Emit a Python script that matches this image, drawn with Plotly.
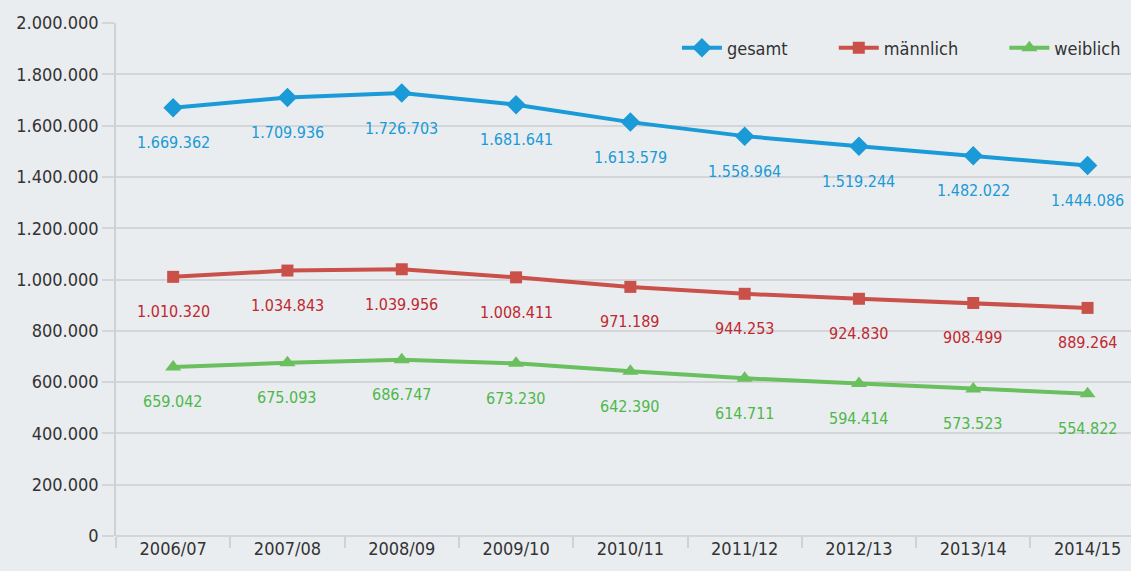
import plotly.graph_objects as go

years = ["2006/07", "2007/08", "2008/09", "2009/10", "2010/11", "2011/12", "2012/13", "2013/14", "2014/15"]
gesamt = [1669362, 1709936, 1726703, 1681641, 1613579, 1558964, 1519244, 1482022, 1444086]
maennlich = [1010320, 1034843, 1039956, 1008411, 971189, 944253, 924830, 908499, 889264]
weiblich = [659042, 675093, 686747, 673230, 642390, 614711, 594414, 573523, 554822]
y_ticks = [0, 200000, 400000, 600000, 800000, 1000000, 1200000, 1400000, 1600000, 1800000, 2000000]

FONT = "DejaVu Sans Condensed, Liberation Sans Narrow, Roboto, sans-serif"
NB = "\u00a0"

def de(v):
    return f"{v:,}".replace(",", ".")

series = [
    ("gesamt", gesamt, "#1a9ad6", "#1a9ad6", "diamond", 15, 8),
    ("männlich", maennlich, "#c9514a", "#c0282f", "square", 12, 8),
    ("weiblich", weiblich, "#6abf5e", "#4db84a", "triangle-up", 14, 0),
]

fig = go.Figure()
annotations = []
for name, vals, col, tcol, sym, size, pad in series:
    fig.add_trace(go.Scatter(
        x=years, y=vals, name=name + NB * pad, mode="lines+markers",
        line=dict(color=col, width=4),
        marker=dict(symbol=sym, size=size, color=col),
    ))
    for x, v in zip(years, vals):
        annotations.append(dict(x=x, y=v, xref="x", yref="y", text=de(v), showarrow=False,
                                yshift=-35, font=dict(family=FONT, size=16, color=tcol)))

fig.update_layout(
    width=1131, height=571,
    margin=dict(l=116, r=0, t=23, b=35),
    paper_bgcolor="#eaedf0", plot_bgcolor="#eaedf0",
    font=dict(family=FONT, size=16, color="#333333"),
    separators=",.",
    showlegend=True,
    legend=dict(orientation="h", x=0.995, xanchor="right", y=0.951, yanchor="middle",
                bgcolor="rgba(0,0,0,0)", font=dict(size=18, color="#333333"),
                itemwidth=40, tracegroupgap=0),
    annotations=annotations,
)
fig.update_xaxes(type="category", range=[-0.5, 8.38], showgrid=False,
                 showline=False, ticks="outside", tickson="boundaries", ticklen=11,
                 tickcolor="#cfd2d5", tickwidth=1.5, tickfont=dict(size=18))
fig.update_yaxes(range=[0, 2000000], tickvals=y_ticks, tickformat=",d",
                 showgrid=True, gridcolor="#d3d5d8", gridwidth=1.5,
                 showline=True, linecolor="#cfd2d5", linewidth=1.5,
                 ticks="outside", ticklen=12, tickcolor="#d3d5d8", tickwidth=1.5,
                 zeroline=True, zerolinecolor="#d3d5d8", zerolinewidth=1.5,
                 tickfont=dict(size=18))

fig.write_html("out.html", config={"displayModeBar": False},
               post_script="document.body.style.margin='0';document.body.style.background='#eaedf0';")
